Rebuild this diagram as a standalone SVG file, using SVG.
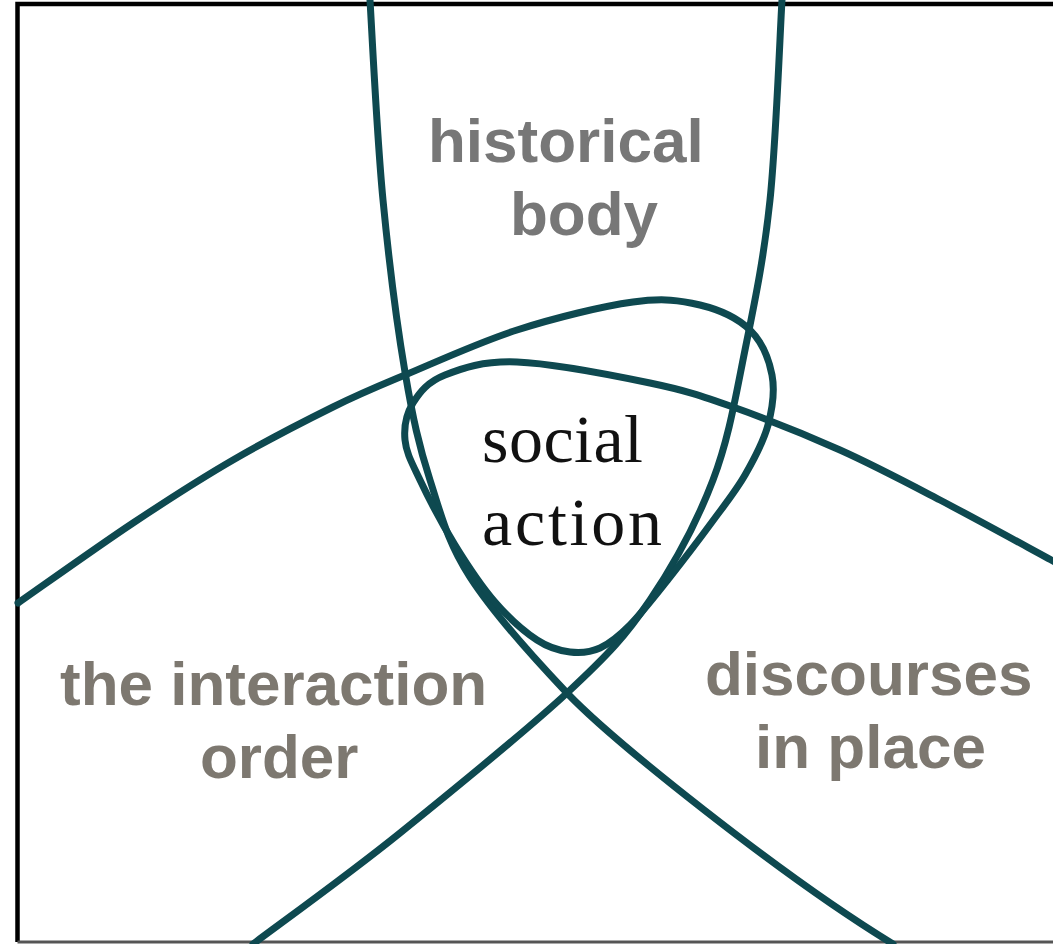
<svg xmlns="http://www.w3.org/2000/svg" width="1053" height="944" viewBox="0 0 1053 944">
  <style>
    .curve { fill: none; stroke: #0e4950; stroke-width: 7; stroke-linecap: round; stroke-linejoin: round; }
    .label { font-family: "Liberation Sans", Arial, sans-serif; font-weight: bold; font-size: 62px; }
    .hb { fill: #777777; }
    .warm { fill: #7d7870; }
    .serif { font-family: "Liberation Serif", "Times New Roman", serif; font-size: 68px; fill: #111111; }
  </style>
  <rect x="0" y="0" width="1053" height="944" fill="#ffffff"/>
  <g id="frame">
    <path d="M1053,4 H17.5 V942" fill="none" stroke="#000000" stroke-width="4.5"/>
    <path d="M17.5,942 H1053" fill="none" stroke="#555555" stroke-width="3"/>
  </g>
  <g id="connectors">
    <path id="curve-a" class="curve" d="M370,0 C372,33 377,138 383,200 C389,262 397,325 405,372 C413,419 419,446 430,480 C441,514 447,541.5 470,577 C493,612.5 530,654 567,693 C612,740 780,875 893,944"/>
    <path id="curve-b" class="curve" d="M782,0 C780,33 776,142 770,200 C764,258 754.5,303 745,350 C735.5,397 729,438 713,480 C697,522 674,564.5 650,600 C626,635.5 609,654 567,693 C525,732 452,791 400,833 C348,875 277.5,925.5 253,944"/>
    <path id="curve-c" class="curve" d="M18,603 C37.2,589.7 97.2,546.8 133,523 C168.8,499.2 199.7,479.3 233,460 C266.3,440.7 304.3,421.2 333,407 C361.7,392.8 374.3,387.8 405,375 C435.7,362.2 479,342.2 517,330 C555,317.8 602.5,306.2 633,302 C663.5,297.8 680.5,300.3 700,305 C719.5,309.7 738,318.3 750,330 C762,341.7 769,359.2 772,375 C775,390.8 772.5,408.3 768,425 C763.5,441.7 754.3,458.8 745,475 C735.7,491.2 724.5,505 712,522 C699.5,539 683.7,559.8 670,577 C656.3,594.2 641.7,613.2 630,625 C618.3,636.8 610,643.5 600,648 C590,652.5 580.5,653.3 570,652 C559.5,650.7 549.5,648.3 537,640 C524.5,631.7 508.7,617.8 495,602 C481.3,586.2 467.5,565.3 455,545 C442.5,524.7 428.3,497.5 420,480 C411.7,462.5 406.2,452.8 405,440 C403.8,427.2 406.3,413.8 413,403 C419.7,392.2 427.7,381.8 445,375 C462.3,368.2 482.8,360.7 517,362 C551.2,363.3 614,375.5 650,383 C686,390.5 701.3,395.8 733,407 C764.7,418.2 805.5,434.5 840,450 C874.5,465.5 904.2,481.3 940,500 C975.8,518.7 1035.8,551.7 1055,562"/>
  </g>
  <g id="node-historical-body">
    <text class="label hb" x="428" y="162">historical</text>
    <text class="label hb" x="510" y="235">body</text>
  </g>
  <g id="node-interaction-order">
    <text class="label warm" x="60" y="705">the interaction</text>
    <text class="label warm" x="200" y="778">order</text>
  </g>
  <g id="node-discourses-in-place">
    <text class="label warm" x="705" y="695">discourses</text>
    <text class="label warm" x="755" y="768">in place</text>
  </g>
  <g id="node-social-action">
    <text class="serif" x="482" y="462" textLength="161" lengthAdjust="spacing">social</text>
    <text class="serif" x="482" y="545" textLength="180" lengthAdjust="spacing">action</text>
  </g>
</svg>
